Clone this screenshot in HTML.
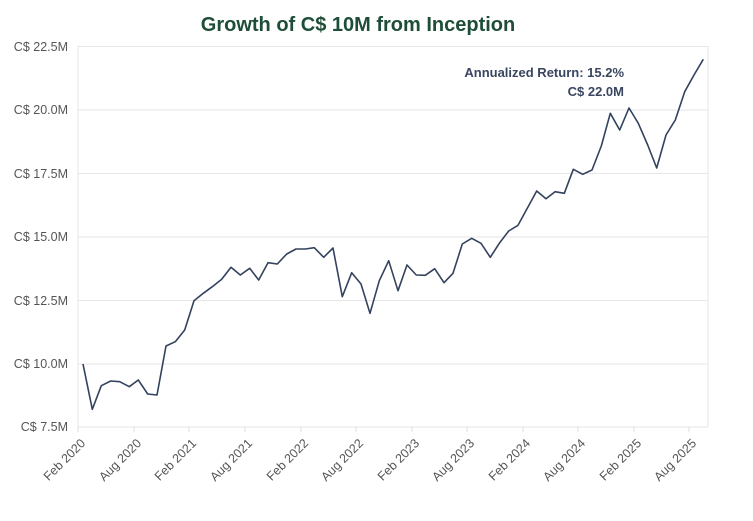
<!DOCTYPE html>
<html><head><meta charset="utf-8"><style>
html,body{margin:0;padding:0;background:#fff;}
svg{display:block;font-family:"Liberation Sans",sans-serif;}
</style></head><body>
<svg width="753" height="521" viewBox="0 0 753 521" xmlns="http://www.w3.org/2000/svg">
<text x="358" y="31" text-anchor="middle" font-size="20" font-weight="bold" fill="#1e4d38">Growth of C$ 10M from Inception</text>
<g stroke="#e6e6e6" stroke-width="1">
<line x1="78" y1="46.5" x2="708" y2="46.5"/>
<line x1="78" y1="110" x2="708" y2="110"/>
<line x1="78" y1="173.5" x2="708" y2="173.5"/>
<line x1="78" y1="237" x2="708" y2="237"/>
<line x1="78" y1="300.5" x2="708" y2="300.5"/>
<line x1="78" y1="364" x2="708" y2="364"/>
<line x1="78" y1="427" x2="708" y2="427"/>
<line x1="78" y1="46" x2="78" y2="427"/>
<line x1="708" y1="46" x2="708" y2="427"/>
</g>
<g stroke="#ddd" stroke-width="1">
<line x1="78" y1="427" x2="78" y2="432"/><line x1="134" y1="427" x2="134" y2="432"/><line x1="189" y1="427" x2="189" y2="432"/><line x1="245" y1="427" x2="245" y2="432"/><line x1="301" y1="427" x2="301" y2="432"/><line x1="356" y1="427" x2="356" y2="432"/><line x1="412" y1="427" x2="412" y2="432"/><line x1="467" y1="427" x2="467" y2="432"/><line x1="523" y1="427" x2="523" y2="432"/><line x1="578" y1="427" x2="578" y2="432"/><line x1="634" y1="427" x2="634" y2="432"/><line x1="689" y1="427" x2="689" y2="432"/>
</g>
<g font-size="12.5" fill="#555" text-anchor="end">
<text x="68" y="51">C$ 22.5M</text>
<text x="68" y="114">C$ 20.0M</text>
<text x="68" y="178">C$ 17.5M</text>
<text x="68" y="241">C$ 15.0M</text>
<text x="68" y="305">C$ 12.5M</text>
<text x="68" y="368">C$ 10.0M</text>
<text x="68" y="431">C$ 7.5M</text>
</g>
<g font-size="12.5" fill="#555" text-anchor="end">
<text transform="translate(86,444) rotate(-45)">Feb 2020</text>
<text transform="translate(142,444) rotate(-45)">Aug 2020</text>
<text transform="translate(197,444) rotate(-45)">Feb 2021</text>
<text transform="translate(253,444) rotate(-45)">Aug 2021</text>
<text transform="translate(309,444) rotate(-45)">Feb 2022</text>
<text transform="translate(364,444) rotate(-45)">Aug 2022</text>
<text transform="translate(420,444) rotate(-45)">Feb 2023</text>
<text transform="translate(475,444) rotate(-45)">Aug 2023</text>
<text transform="translate(531,444) rotate(-45)">Feb 2024</text>
<text transform="translate(586,444) rotate(-45)">Aug 2024</text>
<text transform="translate(642,444) rotate(-45)">Feb 2025</text>
<text transform="translate(697,444) rotate(-45)">Aug 2025</text>
</g>
<polyline fill="none" stroke="#33425e" stroke-width="1.6" stroke-linejoin="round" points="83,364 92.3,409.3 101.3,385.7 110.7,381 119.7,381.7 129.3,386.7 138.3,380 147.7,394 157,395 166,346 175.3,341.7 184.7,330 194,300.7 203.3,293.3 212.3,286.7 221.7,279.3 231,267.3 240.3,275 249.7,268.3 258.7,280 268,262.7 277.3,264 286.7,254 296,249 305.3,249 314.3,247.7 323.7,257.3 333,248 342.3,296.7 351.7,272.7 361,284 370,313.3 379.3,280.7 388.7,260.7 398,290.7 407,265 416.3,275 425.3,275.3 434.7,268.7 444,282.7 453,273.3 462.3,244 471.7,238.3 481,243.3 490.3,257.3 499.7,242.7 508.7,231 518,225.3 527.3,208.3 536.7,191 546,198.7 555,191.7 564.3,193.3 573.3,169.3 582.7,174.3 592,170 601.3,146 610.3,113.3 619.7,130 629,108 638.3,123.3 647.7,145 656.7,168 666,135 675.3,120 684.7,91.7 694,75 703.3,59.3"/>
<g font-size="13" font-weight="bold" fill="#3a4660" text-anchor="end">
<text x="624" y="77">Annualized Return: 15.2%</text>
<text x="624" y="96">C$ 22.0M</text>
</g>
</svg>
</body></html>
